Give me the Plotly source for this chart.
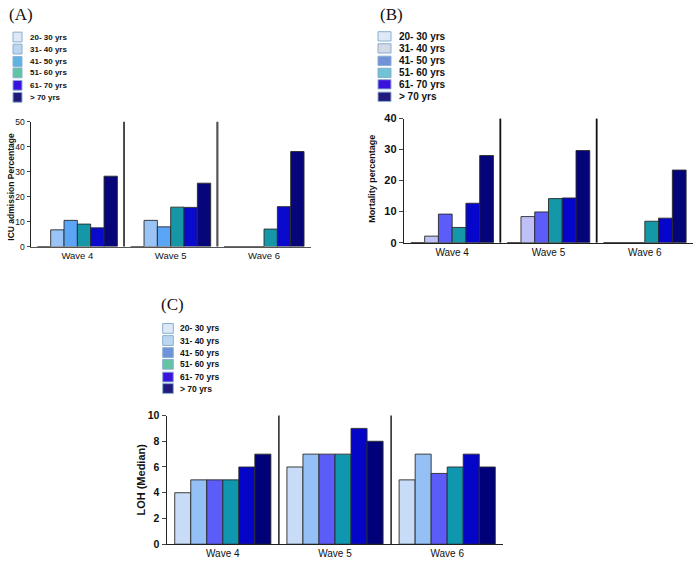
import plotly.graph_objects as go

# ---------------- data ----------------
waves = ["Wave 4", "Wave 5", "Wave 6"]
age_groups = ["20- 30 yrs", "31- 40 yrs", "41- 50 yrs", "51- 60 yrs", "61- 70 yrs", "> 70 yrs"]

# (A) ICU admission percentage
icu_20_30 = [0, 0, 0]
icu_31_40 = [6.7, 10.5, 0]
icu_41_50 = [10.5, 7.9, 0]
icu_51_60 = [9.0, 15.8, 7.0]
icu_61_70 = [7.5, 15.7, 16.0]
icu_over_70 = [28.2, 25.4, 38.1]

# (B) Mortality percentage
mort_20_30 = [0, 0, 0]
mort_31_40 = [2.1, 8.4, 0]
mort_41_50 = [9.2, 9.9, 0]
mort_51_60 = [4.9, 14.2, 6.9]
mort_61_70 = [12.7, 14.4, 7.9]
mort_over_70 = [28.1, 29.7, 23.4]

# (C) LOH (median)
loh_20_30 = [4, 6, 5]
loh_31_40 = [5, 7, 7]
loh_41_50 = [5, 7, 5.5]
loh_51_60 = [5, 7, 6]
loh_61_70 = [6, 9, 7]
loh_over_70 = [7, 8, 6]

icu_series = [icu_20_30, icu_31_40, icu_41_50, icu_51_60, icu_61_70, icu_over_70]
mort_series = [mort_20_30, mort_31_40, mort_41_50, mort_51_60, mort_61_70, mort_over_70]
loh_series = [loh_20_30, loh_31_40, loh_41_50, loh_51_60, loh_61_70, loh_over_70]

# ---------------- styles ----------------
W, H = 700, 573
FONT = "Liberation Sans, Arial, sans-serif"
SERIF = "Liberation Serif, Times New Roman, serif"

bar_colors_a = ["#c8dcf5", "#99c4f5", "#5aa5f5", "#1597a8", "#0a0acc", "#06067a"]
bar_colors_b = ["#c8dcf5", "#c0c0f8", "#5c5cf8", "#1597aa", "#0505cc", "#05057a"]
bar_colors_c = ["#c8dcf8", "#94c0f5", "#5c5cf8", "#1097b0", "#0505c8", "#000078"]

leg_colors_a = ["#dde9f7", "#bcd6f0", "#5fb3e3", "#62c3a5", "#3a12dd", "#1f1a7a"]
leg_colors_b = ["#dde9f7", "#d4dae5", "#7092d8", "#70c3d5", "#3a12dd", "#201a7d"]
leg_colors_c = ["#dde9f7", "#bcd6f0", "#7092d8", "#62c3a5", "#3a12dd", "#201a7d"]


def px(x):
    return x / W


def py(y):
    return 1 - y / H


fig = go.Figure()

panels = [
    ("", icu_series, bar_colors_a),
    ("2", mort_series, bar_colors_b),
    ("3", loh_series, bar_colors_c),
]

for suffix, series, colors in panels:
    for name, vals, col in zip(age_groups, series, colors):
        fig.add_trace(go.Bar(
            x=waves, y=vals, name=name,
            xaxis="x" + suffix, yaxis="y" + suffix,
            marker=dict(color=col, line=dict(color="#2a2a2a", width=0.9)),
            showlegend=False,
        ))

axis_common = dict(showgrid=False, zeroline=False, showline=True, linewidth=1.4)

fig.update_layout(
    width=W, height=H,
    margin=dict(l=0, r=0, t=0, b=0),
    paper_bgcolor="white", plot_bgcolor="white",
    barmode="group", bargap=0.143, bargroupgap=0,
    font=dict(family=FONT, color="#111"),
    xaxis=dict(domain=[px(30.7), px(310.7)], anchor="y", type="category", range=[-0.5, 2.5],
               ticks="", tickfont=dict(size=9.5), linecolor="#555", **axis_common),
    yaxis=dict(domain=[py(245.7), py(118.3)], anchor="x", range=[0, 50], dtick=10,
               ticks="outside", ticklen=3, tickfont=dict(size=8.5), linecolor="#222", **axis_common),
    xaxis2=dict(domain=[px(404), px(693)], anchor="y2", type="category", range=[-0.5, 2.5],
                ticks="", tickfont=dict(size=10), linecolor="#222", **axis_common),
    yaxis2=dict(domain=[py(241.7), py(115)], anchor="x2", range=[0, 40], dtick=10,
                ticks="outside", ticklen=4, tickfont=dict(size=11, weight="bold"), linecolor="#222", **axis_common),
    xaxis3=dict(domain=[px(166.7), px(503.3)], anchor="y3", type="category", range=[-0.5, 2.5],
                ticks="", tickfont=dict(size=10), linecolor="#222", **axis_common),
    yaxis3=dict(domain=[py(549.7), py(418.3)], anchor="x3", range=[0, 10], dtick=2,
                ticks="outside", ticklen=4, tickfont=dict(size=10.5, weight="bold"), linecolor="#222", **axis_common),
)

# wave separators
for xa, ya, col, widths in [("x", "y", ["#111", "#555"], [1.5, 2.2]),
                             ("x2", "y2", ["#111", "#111"], [1.8, 1.8]),
                             ("x3", "y3", ["#111", "#111"], [1.4, 1.4])]:
    for sep, c, w in zip([0.5, 1.5], col, widths):
        fig.add_shape(type="line", xref=xa, yref=ya + " domain", x0=sep, x1=sep, y0=0, y1=1,
                      line=dict(color=c, width=w))

# manual legends
legends = [
    (13, 22, 28, [31.7, 44, 56.7, 68.3, 81, 93.3], 10, 8, leg_colors_a),
    (378, 391, 397, [31, 43.3, 56, 68.3, 80, 92.7], 9.5, 10, leg_colors_b),
    (162.7, 173.3, 177.5, [329.3, 341.7, 354, 366, 379, 390.7], 10, 8.5, leg_colors_c),
]
for x0, x1, tx, rows, h, fs, cols in legends:
    for name, cy, c in zip(age_groups, rows, cols):
        fig.add_shape(type="rect", xref="paper", yref="paper",
                      x0=px(x0), x1=px(x1), y0=py(cy + h / 2), y1=py(cy - h / 2),
                      fillcolor=c, line=dict(color="#8aaed0", width=1))
        fig.add_annotation(xref="paper", yref="paper", x=px(tx), y=py(cy), xanchor="left",
                           yanchor="middle", text="<b>" + name + "</b>", showarrow=False,
                           font=dict(size=fs, family=FONT, color="#111"))

# panel labels
for lab, x, y in [("(A)", 7, 9), ("(B)", 378, 9), ("(C)", 159, 305)]:
    fig.add_annotation(xref="paper", yref="paper", x=px(x), y=py(y), xanchor="left", yanchor="middle",
                       text=lab, showarrow=False, font=dict(size=17, family=SERIF, color="#111"))

# y-axis titles
for txt, x, y, fs in [("ICU admission Percentage", 11.5, 185, 8.5),
                      ("Mortality percentage", 371.7, 176.7, 9),
                      ("LOH (Median)", 140.7, 484, 11)]:
    fig.add_annotation(xref="paper", yref="paper", x=px(x), y=py(y), xanchor="center", yanchor="middle",
                       text="<b>" + txt + "</b>", textangle=-90, showarrow=False,
                       font=dict(size=fs, family=FONT, color="#111"))

fig.write_html("out.html", config={"displayModeBar": False},
               post_script="document.body.style.margin='0';")
